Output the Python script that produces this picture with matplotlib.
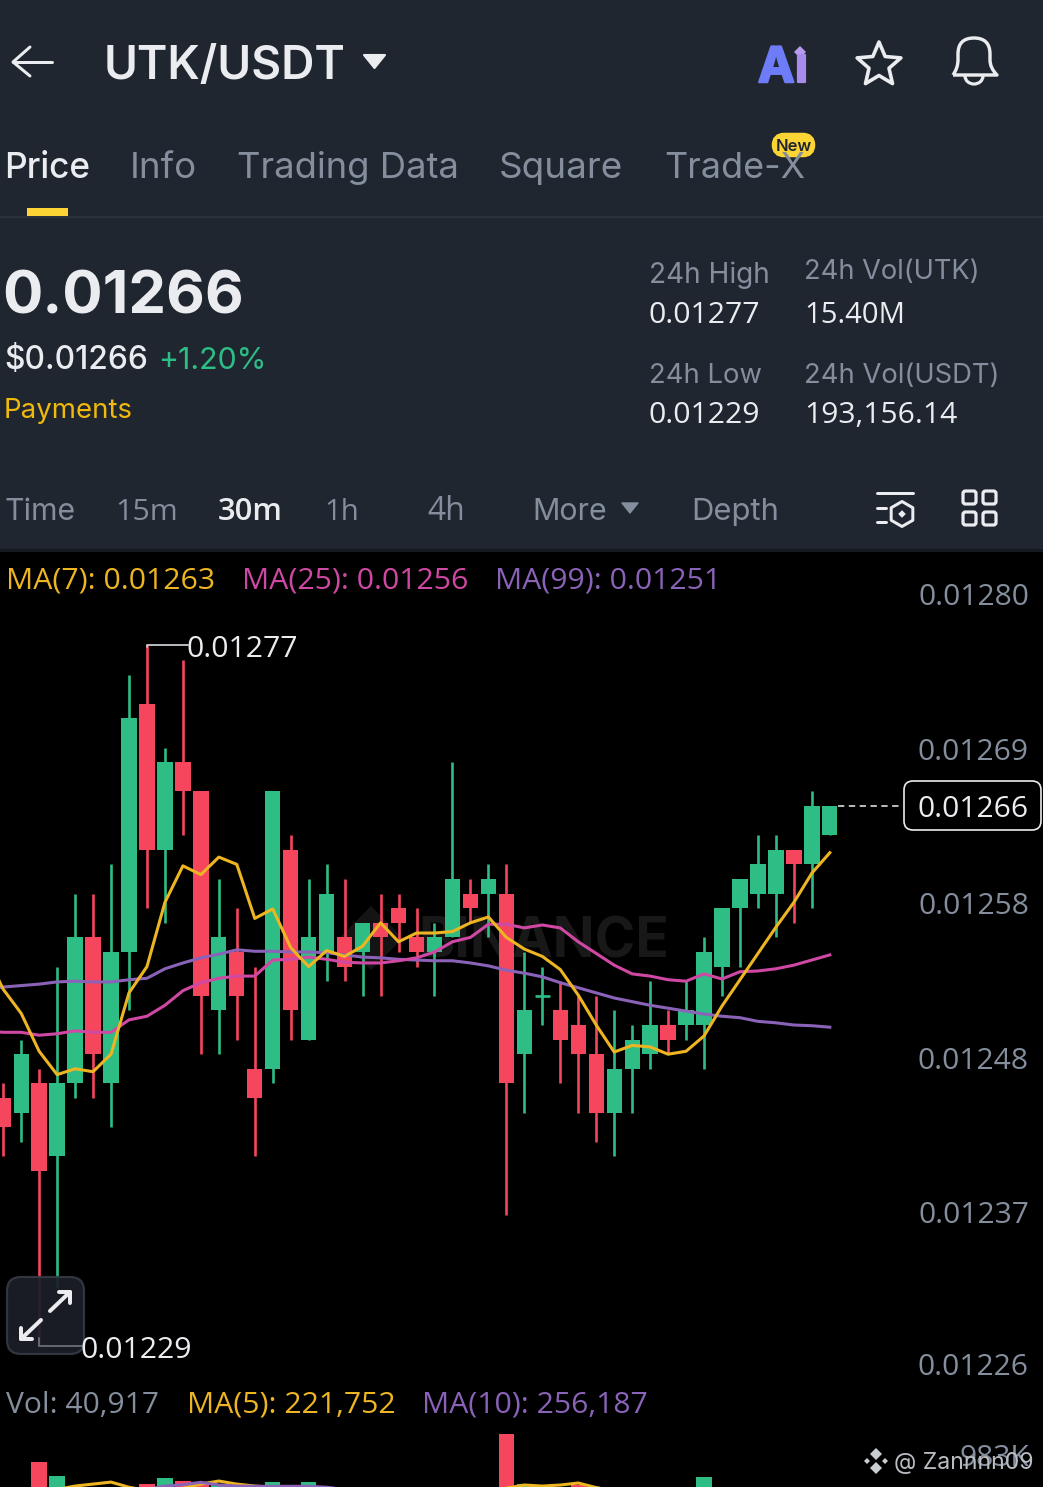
import numpy as np
import matplotlib
matplotlib.use('Agg')
import matplotlib.pyplot as plt
import matplotlib.patheffects as pe
from matplotlib.patches import Rectangle, FancyBboxPatch, Polygon, Arc, PathPatch, RegularPolygon
from matplotlib.path import Path
from matplotlib.ticker import FixedLocator, FixedFormatter

plt.rcParams['font.family'] = ['Inter', 'DejaVu Sans']

W, H = 1043, 1487
SCALE = 1e-5

# candle data, price in units of 0.00001
opens  = [1246,1245,1247,1242,1247,1257,1247,1256,1273,1263,1269,1267,1252,1256,1248,1248,1263,1250,1256,1257,1256,1258,1259,1257,1256,1257,1260,1260,1260,1249,1253,1252,1251,1249,1245,1248,1249,1251,1251,1251,1255,1259,1260,1260,1263,1262,1264]
closes = [1244,1249,1241,1247,1257,1249,1256,1272,1263,1269,1267,1253,1257,1253,1246,1267,1252,1257,1260,1255,1258,1257,1258,1256,1257,1261,1259,1261,1247,1252,1253,1250,1249,1245,1248,1250,1251,1250,1252,1256,1259,1261,1262,1263,1262,1266,1266]
highs  = [1247,1250,1248,1255,1260,1260,1262,1275,1277,1270,1276,1267,1261,1259,1255,1267,1264,1261,1262,1261,1258,1260,1260,1259,1258,1269,1261,1262,1262,1256,1255,1254,1253,1253,1252,1251,1254,1252,1254,1257,1259,1261,1264,1264,1263,1267,1266]
lows   = [1242,1243,1229,1233,1246,1246,1244,1252,1259,1258,1264,1249,1249,1250,1242,1247,1250,1250,1254,1254,1253,1253,1256,1255,1253,1257,1258,1257,1238,1245,1251,1247,1245,1243,1242,1245,1248,1249,1250,1248,1253,1255,1259,1257,1258,1259,1264]

# moving averages, first value lies one candle left of the visible area
ma7 = [1256.0,1253.45,1251.8,1249.2,1247.6,1248.0,1247.8,1249.0,1253.2,1255.0,1259.4,1261.9,1261.3,1262.5,1262.0,1258.3,1258.95,1256.3,
       1255.0,1256.1,1255.7,1256.4,1258.0,1256.7,1257.3,1257.3,1257.4,1258.0,1258.4,1257.0,1256.2,1255.7,1254.8,1253.05,
       1251.0,1249.15,1249.6,1249.5,1249.0,1249.2,1250.25,1252.3,1254.1,1255.9,1257.7,1259.4,1261.4,1262.8]
ma25 = [1250.6,1250.5,1250.5,1250.3,1250.4,1250.6,1250.5,1250.5,1251.35,1251.6,1252.35,1253.35,1253.9,1254.2,1254.35,1254.35,1255.45,1255.5,
        1255.65,1255.5,1255.3,1255.25,1255.25,1255.4,1255.6,1256.0,1256.7,1257.0,1257.9,1257.9,1257.65,1257.85,1257.65,1256.7,
        1255.9,1255.1,1254.5,1254.35,1254.1,1254.0,1254.5,1254.15,1254.65,1254.7,1254.85,1255.1,1255.45,1255.8]
ma99 = [1253.5,1253.6,1253.7,1253.8,1253.95,1254.0,1253.95,1253.95,1254.1,1254.2,1254.85,1255.25,1255.6,1255.85,1256.15,1256.05,1256.05,1256.0,
        1256.0,1255.95,1255.8,1255.65,1255.6,1255.5,1255.45,1255.4,1255.4,1255.25,1255.05,1254.75,1254.55,1254.3,1253.9,1253.55,
        1253.2,1252.85,1252.6,1252.35,1252.15,1251.95,1251.75,1251.6,1251.5,1251.25,1251.15,1251.0,1250.95,1250.85]

price_ticks  = [1280.52,1269.9,1259.36,1248.75,1238.2,1227.8]
price_labels = ['0.01280','0.01269','0.01258','0.01248','0.01237','0.01226']

# volume panel (thousands); only the tops of the tallest bars are in frame
vol_idx  = [2,3,8,9,10,11,12,15,17,28,29,32,39]
vol_vals = [923,804,735,787,761,735,727,752,752,1163,735,727,795]
vol_up   = [0,1,0,1,0,0,1,1,1,0,1,0,1]
vma5_idx  = list(range(3,35))
vma5_vals = [690,718,735,752,708,680,670,700,735,761,735,718,708,680,670,660,650,640,640,640,650,650,660,670,680,700,727,718,727,744,705,680]
vma10_idx  = list(range(8,20))
vma10_vals = [690,718,730,750,727,718,716,716,716,716,708,690]

UP, DOWN = '#2EBD85', '#F6465D'
BG, LINE = '#1F2630', '#2B3139'
WHITE, GREY = '#EAECEF', '#848E9C'
YEL, PINK, PURP = '#EDB522', '#CF48A3', '#8A63B8'
NUM = ['Open Sans', 'DejaVu Sans']

fig = plt.figure(figsize=(W/100, H/100), dpi=100, facecolor='black')
rend = fig.canvas.get_renderer()

def axbox(top, bottom):
    return [0, 1-bottom/H, 1, (bottom-top)/H]

STEP, X0 = 17.97, 3.2
BW = 15.3/STEP

# price panel
ax = fig.add_axes(axbox(552, 1420), facecolor='black', zorder=1)
PX = 14.6
ax.set_xlim(-X0/STEP, (W-X0)/STEP)
ax.set_ylim((1266-(1420-806)/PX)*SCALE, (1266+(806-552)/PX)*SCALE)
idx = np.arange(len(opens))
o, c, h, l = [np.array(a, float)*SCALE for a in (opens, closes, highs, lows)]
up = c >= o
colors = np.where(up, UP, DOWN)
ax.vlines(idx, l, h, colors=colors, lw=1.9, zorder=2, clip_on=False)
flat = o == c
ax.bar(idx[~flat], np.abs(c-o)[~flat], bottom=np.minimum(o, c)[~flat], width=BW, color=colors[~flat], zorder=3, lw=0)
ax.hlines(o[flat], idx[flat]-BW/2, idx[flat]+BW/2, colors=colors[flat], lw=1.9, zorder=3)
mx = np.arange(-1, len(opens))
for ser, col in ((ma99, PURP), (ma25, PINK), (ma7, YEL)):
    ax.plot(mx, np.array(ser)*SCALE, color=col, lw=2.2, zorder=4, solid_joinstyle='round')
ax.yaxis.tick_right()
ax.yaxis.set_major_locator(FixedLocator(np.array(price_ticks)*SCALE))
ax.yaxis.set_major_formatter(FixedFormatter(price_labels))
ax.tick_params(axis='y', length=0, pad=-10.1, labelsize=30*.72, labelcolor=GREY, labelfontfamily=NUM)
for t in ax.get_yticklabels():
    t.set_ha('right')
ax.xaxis.set_visible(False)
for s in ax.spines.values():
    s.set_visible(False)

# volume panel
av = fig.add_axes(axbox(1420, H), facecolor='black', zorder=1)
av.set_xlim(-X0/STEP, (W-X0)/STEP)
av.set_ylim(710, 1282.5)
av.bar(vol_idx, vol_vals, width=BW, color=[UP if u else DOWN for u in vol_up], lw=0, zorder=2)
av.plot(vma5_idx, vma5_vals, color=YEL, lw=2.2, zorder=3)
av.plot(vma10_idx, vma10_vals, color=PURP, lw=2.2, zorder=4)
av.yaxis.tick_right()
av.yaxis.set_major_locator(FixedLocator([983]))
av.yaxis.set_major_formatter(FixedFormatter(['983K']))
av.tick_params(axis='y', length=0, pad=-10.1, labelsize=30*.72, labelcolor=GREY, labelfontfamily=NUM)
for t in av.get_yticklabels():
    t.set_ha('right')
av.xaxis.set_visible(False)
for s in av.spines.values():
    s.set_visible(False)

# pixel overlay for the app chrome
px = fig.add_axes([0, 0, 1, 1], zorder=5)
px.set_xlim(0, W); px.set_ylim(H, 0); px.axis('off'); px.patch.set_alpha(0)

def T(x, y, s, size, color=WHITE, ha='left', weight='normal', x2=None, fam=None, **kw):
    # y is the middle of the capital height; all strings share a baseline from it
    t = px.text(x, y, s, fontsize=size*.72, color=color, ha=ha, va='baseline', fontweight=weight, **kw)
    if fam:
        t.set_fontfamily(fam)
    if x2 is not None:
        w = t.get_window_extent(rend).width
        size = size*(x2-x)/w
        t.set_fontsize(size*.72)
    t.set_y(y + 0.36*size)
    return t

def L(xs, ys, color=WHITE, lw=3, **kw):
    px.plot(xs, ys, color=color, lw=lw*.72, solid_capstyle='round', solid_joinstyle='round', **kw)

px.add_patch(Rectangle((0, 0), W, 552, color=BG, lw=0))
px.add_patch(Rectangle((0, 549), W, 3, color='#14181F', lw=0))
px.add_patch(Rectangle((0, 216), W, 1.5, color=LINE, lw=0))

# watermark below the candles
logo = ((371, 906), (403, 938), (371, 970), (339, 938))
ax.add_patch(Polygon(logo, closed=True, color='#141414', lw=0, transform=px.transData, zorder=1))
wm = ax.text(418, 958, 'BINANCE', fontsize=55*.72, color='#181818', fontweight='bold', va='baseline', transform=px.transData, zorder=1)

# top bar
L([13, 52], [62, 62]); L([30, 13, 30], [47, 62, 76])
T(104, 62.5, 'UTK/USDT', 46, weight='semibold', x2=346)
px.add_patch(Polygon([(364, 55), (385, 55), (374.5, 68)], closed=True, fc=WHITE, ec=WHITE, lw=1.5, joinstyle='round'))
stroke_a = [pe.withStroke(linewidth=1.6, foreground='#6F7CF7')]
stroke_i = [pe.withStroke(linewidth=1.6, foreground='#A88BEB')]
T(758, 64.5, 'A', 49, color='#6F7CF7', weight='bold', path_effects=stroke_a)
T(795, 64.5, 'ı', 49, color='#A88BEB', weight='bold', path_effects=stroke_i)
px.add_patch(RegularPolygon((800, 52), 4, radius=6, color='#B79AF0', lw=0))
ang = np.pi/2 + np.arange(10)*np.pi/5
rad = np.where(np.arange(10) % 2 == 0, 23, 10.5)
px.add_patch(Polygon(np.c_[879+rad*np.cos(ang), 65-rad*np.sin(ang)], closed=True, fc='none', ec=WHITE, lw=3.6*.72, joinstyle='round'))
bell = Path([(953, 75), (997, 75), (990, 68), (990, 60), (990, 54), (990, 38), (974, 38), (958, 38), (958, 54), (958, 60), (958, 68), (953, 75)],
            [Path.MOVETO, Path.LINETO, Path.CURVE3, Path.CURVE3, Path.LINETO, Path.CURVE3, Path.CURVE3, Path.CURVE3, Path.CURVE3, Path.LINETO, Path.CURVE3, Path.CURVE3])
px.add_patch(PathPatch(bell, fc='none', ec=WHITE, lw=3.4*.72, joinstyle='round'))
px.add_patch(Arc((974, 76), 18, 16, theta1=0, theta2=180, ec=WHITE, lw=3.2*.72))

# tabs
for x, x2, s, col, w in ((4, 90, 'Price', WHITE, 'medium'), (130, 197, 'Info', GREY, 'normal'), (237, 459, 'Trading Data', GREY, 'normal'),
                         (499, 623, 'Square', GREY, 'normal'), (664, 805, 'Trade-X', GREY, 'normal')):
    T(x, 165, s, 37, color=col, x2=x2, weight=w)
px.add_patch(FancyBboxPatch((778, 139), 31, 12, boxstyle='round,pad=0,rounding_size=6', mutation_aspect=1, fc='#FCD535', ec='#FCD535', lw=9))
T(793.5, 145, 'New', 16.5, color='#202630', ha='center', weight='semibold')
px.add_patch(Rectangle((27, 208), 41, 8, color='#FCD535', lw=0))

# quote block
T(2, 292, '0.01266', 60, weight='bold', x2=244)
T(4, 358, '$0.01266', 31, weight='medium', x2=148)
T(158, 358, '+1.20%', 31, color=UP, x2=267)
T(4, 408, 'Payments', 28, color='#F0B90B', x2=133)
for x, x2, y, s, col, f in ((649, 770, 273, '24h High', GREY, None), (649, 760, 312, '0.01277', WHITE, NUM), (804, 980, 269, '24h Vol(UTK)', GREY, None), (804, 905, 312, '15.40M', WHITE, NUM),
                            (649, 762, 373, '24h Low', GREY, None), (649, 760, 412, '0.01229', WHITE, NUM), (804, 1000, 373, '24h Vol(USDT)', GREY, None), (804, 957, 412, '193,156.14', WHITE, NUM)):
    T(x, y, s, 28.5, color=col, x2=x2, fam=f)

# interval row
for x, x2, s, col, w, f in ((4, 75, 'Time', GREY, 'normal', None), (115, 178, '15m', GREY, 'normal', NUM), (218, 283, '30m', WHITE, 'semibold', NUM), (324, 359, '1h', GREY, 'normal', NUM),
                            (427, 465, '4h', GREY, 'normal', NUM), (532, 607, 'More', GREY, 'normal', None), (691, 779, 'Depth', GREY, 'normal', None)):
    T(x, 509, s, 30, color=col, weight=w, x2=x2, fam=f)
px.add_patch(Polygon([(622, 503), (638, 503), (630, 513)], closed=True, fc=GREY, ec=GREY, lw=1, joinstyle='round'))
L([877, 913], [493, 493], lw=3); L([877, 886], [508, 508], lw=3); L([877, 886], [522, 522], lw=3)
px.add_patch(RegularPolygon((902, 514), 6, radius=12.5, fc='none', ec=WHITE, lw=3*.72, joinstyle='round'))
px.add_patch(RegularPolygon((902, 514), 4, radius=3.8, color=WHITE, lw=0))
for gx in (962, 982):
    for gy in (490, 511):
        px.add_patch(FancyBboxPatch((gx+1, gy+1), 13, 13, boxstyle='round,pad=0,rounding_size=2.5', fc='none', ec=WHITE, lw=3.2*.72))

# legends
for x, x2, s, col in ((6, 215, 'MA(7): 0.01263', YEL), (242, 468, 'MA(25): 0.01256', PINK), (495, 720, 'MA(99): 0.01251', PURP)):
    T(x, 578, s, 28.5, color=col, x2=x2, fam=NUM)
for x, x2, s, col in ((6, 159, 'Vol: 40,917', GREY), (187, 395, 'MA(5): 221,752', YEL), (422, 647, 'MA(10): 256,187', PURP)):
    T(x, 1402, s, 28.5, color=col, x2=x2, fam=NUM)

# extreme labels
def to_px(i, p):
    return px.transData.inverted().transform(ax.transData.transform((i, p*SCALE)))

xh, yh = to_px(highs.index(max(highs)), max(highs))
xl, yl = to_px(lows.index(min(lows)), min(lows))
L([xh, xh, 188], [yh+2, yh, yh], color='#C8CCD2', lw=1.8)
T(187, yh+1, '0.01277', 30, x2=299, fam=NUM)
L([xl, xl, 82], [yl-8, yl, yl], color='#6a6f78', lw=1.8)
T(80, yl+1, '0.01229', 30, x2=192, fam=NUM)

# current price tag
xc, yc = to_px(46, closes[-1])
px.plot([xc+8, 903], [yc-0.5, yc-0.5], color='#C8CCD2', lw=1.3, ls=(0, (3.5, 2.5)))
px.add_patch(FancyBboxPatch((904, 781), 137, 49, boxstyle='round,pad=0,rounding_size=9', fc='black', ec=WHITE, lw=1.2))
T(973.5, 806, '0.01266', 30, ha='center', fam=NUM)

# expand button
px.add_patch(FancyBboxPatch((7, 1277), 77, 77, boxstyle='round,pad=0,rounding_size=14', fc='#1C1F27', ec='#333A44', lw=1.6, alpha=0.93))
L([50, 70], [1311, 1292], lw=4); L([59, 70, 70], [1292, 1292, 1303], lw=4)
L([41, 21], [1320, 1339], lw=4); L([21, 21, 32], [1328, 1339, 1339], lw=4)

# footer watermark
cx, cy = 876, 1461
for dx, dy, r in ((0, -7, 6), (0, 7, 6), (-9, 0, 3), (9, 0, 3)):
    px.add_patch(RegularPolygon((cx+dx, cy+dy), 4, radius=r, fc='#C9CCD0', lw=0))
T(894, 1461, '@ Zannnn09', 25, color='#B9BDC3', x2=1033)

fig.savefig('out.png', dpi=100, facecolor='black')
